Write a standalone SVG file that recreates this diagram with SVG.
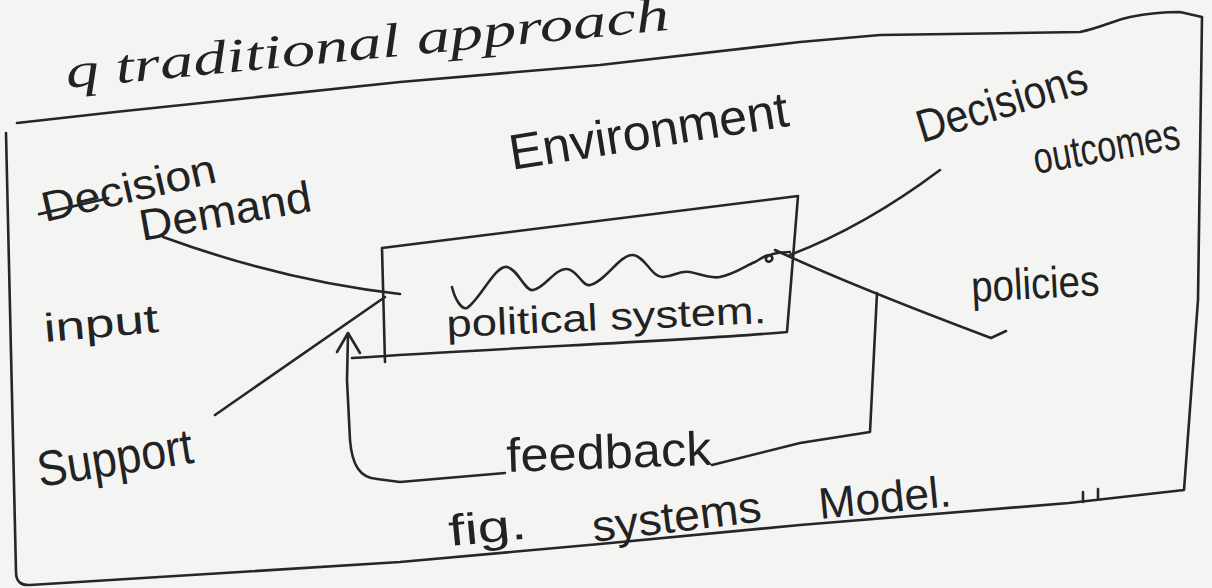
<svg xmlns="http://www.w3.org/2000/svg" width="1212" height="588" viewBox="0 0 1212 588">
<defs>
<style>
.ink{fill:none;stroke:#262626;stroke-width:2.6;stroke-linecap:round;stroke-linejoin:round}
.lbl{fill:#222;font-family:"Liberation Sans","DejaVu Sans",sans-serif}
.hand{fill:#222;font-family:"Liberation Serif","DejaVu Serif",serif;font-style:italic}
</style>
</defs>
<rect width="1212" height="588" fill="#f4f4f2"/>
<g id="frame">
<path class="ink" d="M17,123 C150,108 300,92 400,82 C480,75 540,70 600,65 L800,42 L880,35 L1080,32 C1100,28 1115,20 1130,17 C1150,13 1165,12 1180,12 L1202,17 L1198,300 L1184,490 L1069,503 L800,525 L600,544 L400,562 L30,585 Q16,586 16,572 L6,133"/>
<path class="ink" d="M1083,492 L1083,502 M1098,489 L1098,499" stroke-width="1.6"/>
</g>
<g id="heading">
<text class="hand" x="67" y="88" font-size="48" textLength="606" lengthAdjust="spacingAndGlyphs" transform="rotate(-5.5 67 88)">q traditional approach</text>
</g>
<g id="environment">
<text class="lbl" x="512" y="170" font-size="50" textLength="282" lengthAdjust="spacingAndGlyphs" transform="rotate(-9 512 170)">Environment</text>
</g>
<g id="political-system">
<path class="ink" d="M382,248 L798,196 L787,332 C700,340 500,348 352,358 M382,248 L385,362"/>
<path class="ink" d="M452,287 C455,300 462,310 467,308 C480,300 495,265 507,267 C518,269 525,292 533,290 C545,288 555,268 567,269 C578,270 582,287 590,285 C605,282 620,254 633,255 C645,256 652,278 663,277 C675,276 680,270 690,272 C700,274 710,279 720,277 C735,274 745,266 755,262 C762,258 770,252 772,257 C774,262 765,264 766,258 C768,254 780,252 790,252"/>
<text class="lbl" x="447" y="337" font-size="38" textLength="320" lengthAdjust="spacingAndGlyphs" transform="rotate(-2.5 447 337)">political system.</text>
</g>
<g id="decision-struck">
<g transform="rotate(-13 45 222)">
<text class="lbl" x="45" y="222" font-size="42" textLength="178" lengthAdjust="spacingAndGlyphs">Decision</text>
<line class="ink" x1="41" y1="213" x2="112" y2="213"/>
</g>
</g>
<g id="demand">
<text class="lbl" x="142" y="241" font-size="44" textLength="174" lengthAdjust="spacingAndGlyphs" transform="rotate(-10 142 241)">Demand</text>
</g>
<g id="input">
<text class="lbl" x="45" y="342" font-size="40" textLength="115" lengthAdjust="spacingAndGlyphs" transform="rotate(-5 45 342)">input</text>
</g>
<g id="support">
<text class="lbl" x="40" y="487" font-size="50" textLength="157" lengthAdjust="spacingAndGlyphs" transform="rotate(-9 40 487)">Support</text>
</g>
<g id="decisions">
<text class="lbl" x="922" y="143" font-size="46" textLength="176" lengthAdjust="spacingAndGlyphs" transform="rotate(-17 922 143)">Decisions</text>
</g>
<g id="outcomes">
<text class="lbl" x="1036" y="174" font-size="44" textLength="148" lengthAdjust="spacingAndGlyphs" transform="rotate(-10 1036 174)">outcomes</text>
</g>
<g id="policies">
<text class="lbl" x="972" y="302" font-size="44" textLength="128" lengthAdjust="spacingAndGlyphs" transform="rotate(-3 972 302)">policies</text>
</g>
<g id="feedback">
<text class="lbl" x="507" y="472" font-size="48" textLength="205" lengthAdjust="spacingAndGlyphs" transform="rotate(-2 507 472)">feedback</text>
</g>
<g id="caption">
<text class="lbl" x="450" y="546" font-size="44" textLength="78" lengthAdjust="spacingAndGlyphs" transform="rotate(-5.5 450 546)">fig.</text>
<text class="lbl" x="594" y="542" font-size="44" textLength="170" lengthAdjust="spacingAndGlyphs" transform="rotate(-7 594 542)">systems</text>
<text class="lbl" x="820" y="519" font-size="44" textLength="133" lengthAdjust="spacingAndGlyphs" transform="rotate(-5.6 820 519)">Model.</text>
</g>
<g id="connectors">
<path class="ink" d="M163,237 C240,265 320,285 400,294"/>
<path class="ink" d="M215,415 L385,297"/>
<path class="ink" d="M940,170 C900,200 850,232 790,255"/>
<path class="ink" d="M775,250 Q850,285 991,338 L1006,331"/>
<path class="ink" d="M877,293 L870,432 L800,443 L712,465 M505,473 L400,482 L377,479 C360,478 352,465 350,440 L347,380 L348,334"/>
<path class="ink" d="M337,352 L348,333 L360,353"/>
</g>
</svg>
